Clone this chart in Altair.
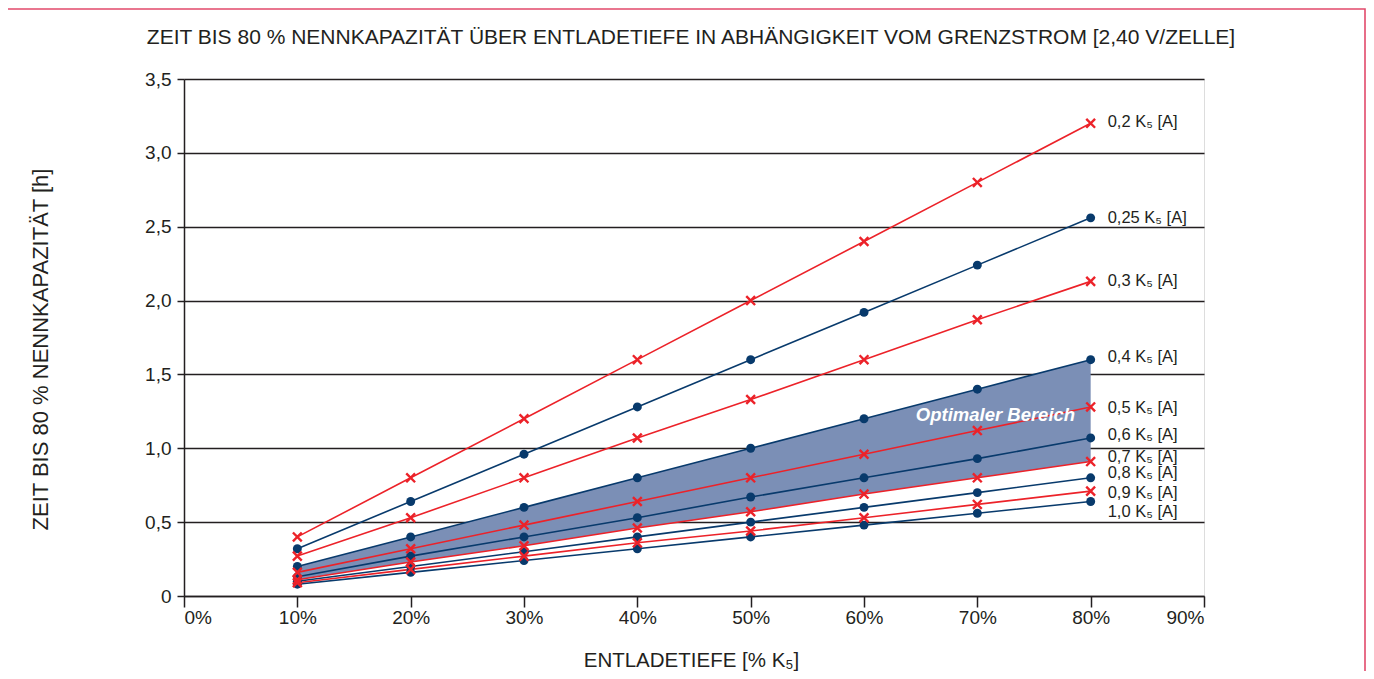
import altair as alt
import pandas as pd

# ---- data ----
depth = [10, 20, 30, 40, 50, 60, 70, 80]
series_names = ["0,2", "0,25", "0,3", "0,4", "0,5", "0,6", "0,7", "0,8", "0,9", "1,0"]
marker_kind = ["cross", "dot", "cross", "dot", "cross", "dot", "cross", "dot", "cross", "dot"]

s_02 = [0.40, 0.80, 1.20, 1.60, 2.00, 2.40, 2.80, 3.20]
s_025 = [0.32, 0.64, 0.96, 1.28, 1.60, 1.92, 2.24, 2.56]
s_03 = [0.27, 0.53, 0.80, 1.07, 1.33, 1.60, 1.87, 2.13]
s_04 = [0.20, 0.40, 0.60, 0.80, 1.00, 1.20, 1.40, 1.60]
s_05 = [0.16, 0.32, 0.48, 0.64, 0.80, 0.96, 1.12, 1.28]
s_06 = [0.13, 0.27, 0.40, 0.53, 0.67, 0.80, 0.93, 1.07]
s_07 = [0.11, 0.23, 0.34, 0.46, 0.57, 0.69, 0.80, 0.91]
s_08 = [0.10, 0.20, 0.30, 0.40, 0.50, 0.60, 0.70, 0.80]
s_09 = [0.09, 0.18, 0.27, 0.36, 0.44, 0.53, 0.62, 0.71]
s_10 = [0.08, 0.16, 0.24, 0.32, 0.40, 0.48, 0.56, 0.64]
all_series = [s_02, s_025, s_03, s_04, s_05, s_06, s_07, s_08, s_09, s_10]

# label anchor heights (hours) at the right end of each curve
label_y = [3.21, 2.56, 2.13, 1.62, 1.27, 1.09, 0.94, 0.83, 0.70, 0.57]

y_ticks = [0, 0.5, 1.0, 1.5, 2.0, 2.5, 3.0, 3.5]
x_ticks = [0, 10, 20, 30, 40, 50, 60, 70, 80, 90]

title_text = "ZEIT BIS 80 % NENNKAPAZITÄT ÜBER ENTLADETIEFE IN ABHÄNGIGKEIT VOM GRENZSTROM [2,40 V/ZELLE]"
band_label = "Optimaler Bereich"
band_label_pos = (71.6, 1.225)

RED = "#ec2229"
BLUE = "#083a6c"
FILL = "#7b8fb6"
FONT = "Liberation Sans"
INK = "#231f20"

rows = []
for name, kind, vals in zip(series_names, marker_kind, all_series):
    for d, v in zip(depth, vals):
        rows.append({"series": name, "kind": kind, "depth": d, "value": v})
df = pd.DataFrame(rows)

area_df = pd.DataFrame({"depth": depth, "upper": s_04, "lower": s_07})
lab_df = pd.DataFrame({
    "series": series_names,
    "depth": [depth[-1]] * len(series_names),
    "value": label_y,
    "label": [f"{n} K\u2085 [A]" for n in series_names],
})
band_df = pd.DataFrame({"depth": [band_label_pos[0]], "value": [band_label_pos[1]], "label": [band_label]})

xscale = alt.Scale(domain=[0, 90], nice=False, zero=False)
yscale = alt.Scale(domain=[0, 3.5], nice=False, zero=False)

x_axis = alt.Axis(
    values=x_ticks, labelExpr="datum.value + '%'", title="ENTLADETIEFE [% K\u2085]",
    grid=False, tickSize=11, labelPadding=1, labelFontSize=19, labelFont=FONT, labelColor=INK,
    domainColor=INK, tickColor=INK, domainWidth=1.5, tickWidth=1.5,
    titleFont=FONT, titleFontSize=20.5, titleFontWeight="normal", titleColor=INK,
    titleX=507, titleY=64, titleBaseline="middle", titleAnchor="middle",
)
y_axis = alt.Axis(
    values=y_ticks,
    labelExpr="datum.value == 0 ? '0' : replace(format(datum.value, '.1f'), '.', ',')",
    title="ZEIT BIS 80 % NENNKAPAZITÄT [h]",
    grid=True, gridColor=INK, gridWidth=1.5, gridOpacity=1,
    tickSize=7, labelPadding=6, labelFontSize=19, labelFont=FONT, labelColor=INK,
    domainColor=INK, tickColor=INK, domainWidth=1.5, tickWidth=1.5,
    titleFont=FONT, titleFontSize=22, titleFontWeight="normal", titleColor=INK,
    titleX=-144, titleY=270, titleAngle=-90, titleBaseline="middle", titleAlign="center",
)

X = alt.X("depth:Q", scale=xscale, axis=x_axis)
Y = alt.Y("value:Q", scale=yscale, axis=y_axis)

area = alt.Chart(area_df).mark_area(color=FILL, opacity=1).encode(
    x=X, y=alt.Y("upper:Q", scale=yscale, axis=y_axis), y2="lower:Q"
)

lines = alt.Chart(df).mark_line(strokeWidth=1.6).encode(
    x=X, y=Y,
    color=alt.Color("series:N", scale=alt.Scale(domain=series_names,
                    range=[RED if k == "cross" else BLUE for k in marker_kind]), legend=None),
    detail="series:N",
)

dots = alt.Chart(df).transform_filter("datum.kind == 'dot'").mark_circle(
    size=80, color=BLUE, opacity=1
).encode(x=X, y=Y)

crosses = alt.Chart(df).transform_filter("datum.kind == 'cross'").mark_point(
    shape="M-1,-1L1,1M1,-1L-1,1", size=78, color=RED, strokeWidth=2.4, filled=False, opacity=1
).encode(x=X, y=Y)

labels = alt.Chart(lab_df).mark_text(
    align="left", baseline="middle", dx=17, fontSize=16.5, font=FONT, color=INK
).encode(x=X, y=Y, text="label:N")

band_text = alt.Chart(band_df).mark_text(
    align="center", baseline="middle", fontSize=18.5, font=FONT, fontWeight="bold",
    fontStyle="italic", color="white"
).encode(x=X, y=Y, text="label:N")

title_mark = alt.Chart(pd.DataFrame({"t": [title_text]})).mark_text(
    align="center", baseline="middle", fontSize=21, font=FONT, color=INK
).encode(x=alt.value(507), y=alt.value(-41), text="t:N")

frame = alt.Chart(pd.DataFrame({"a": [0]})).mark_rect(
    fillOpacity=0, stroke="#e24a6b", strokeWidth=1.6
).encode(x=alt.value(-177), x2=alt.value(1181), y=alt.value(-70), y2=alt.value(640))

chart = alt.layer(area, lines, dots, crosses, labels, band_text, title_mark, frame).properties(
    width=1020, height=517,
    autosize=alt.AutoSizeParams(type="none"),
    padding={"left": 176, "top": 71, "right": 162, "bottom": 75},
).configure_view(stroke=INK, strokeWidth=1.5).configure(background="white")

chart.save("out.html", embed_options={"renderer": "svg", "actions": False})
